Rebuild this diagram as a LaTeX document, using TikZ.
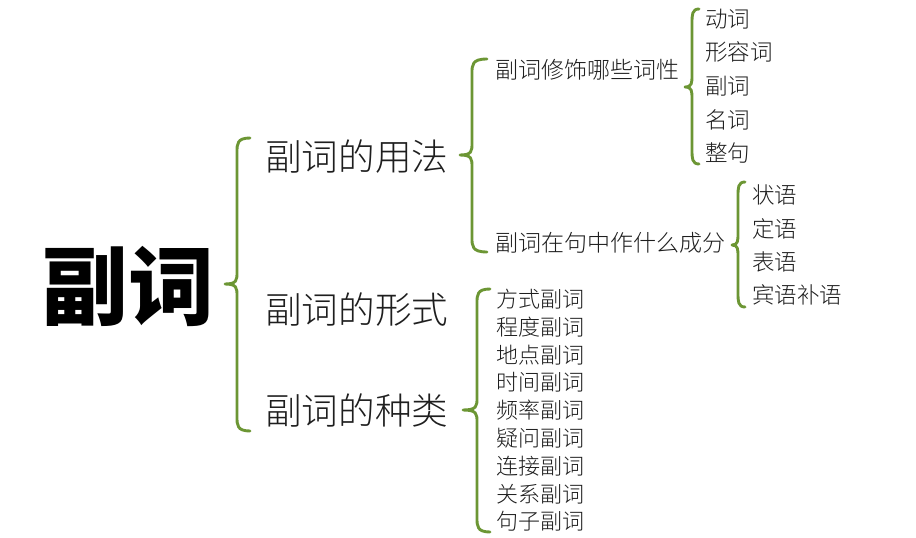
\documentclass[tikz,border=0pt]{standalone}
\usepackage{fontspec}
\newfontfamily\cjk{Noto Sans CJK SC Light}
\newfontfamily\cjkbold{Noto Sans CJK SC Black}
\definecolor{bracegreen}{RGB}{108,150,52}
\definecolor{txt}{RGB}{30,30,30}
\newcommand{\mybrace}[6]{% xtip, xv, xend, ytop, ymid, ybot
  \draw[bracestyle] (#3,#4) .. controls (#2,#4) and (#2,#4+6) .. (#2,#4+14)
    -- (#2,#5-12) .. controls (#2,#5-4) and (#2,#5) .. (#1,#5)
    .. controls (#2,#5) and (#2,#5+4) .. (#2,#5+12)
    -- (#2,#6-14) .. controls (#2,#6-6) and (#2,#6) .. (#3,#6);}
\begin{document}
\begin{tikzpicture}[x=1pt,y=-1pt,
  bracestyle/.style={draw=bracegreen,line width=2.9pt,line cap=round,line join=round},
  lvlA/.style={anchor=west,inner sep=0pt,text=txt,font=\cjk\fontsize{36.6}{40}\selectfont},
  lvlB/.style={anchor=west,inner sep=0pt,text=txt,font=\cjk\fontsize{23}{26}\selectfont},
  lvlC/.style={anchor=west,inner sep=0pt,text=txt,font=\cjk\fontsize{22.5}{26}\selectfont},
  lvlD/.style={anchor=west,inner sep=0pt,text=txt,font=\cjk\fontsize{22}{24}\selectfont}]
\useasboundingbox (0,0) rectangle (916,538);
\node[anchor=west,inner sep=0pt,font=\cjkbold\fontsize{86}{90}\selectfont] (root) at (42,286) {副词};
% level 1
\mybrace{225}{237}{250}{138}{284}{431}
\node[lvlA] (usage) at (265,157) {副词的用法};
\node[lvlA] (form) at (265,310) {副词的形式};
\node[lvlA] (kind) at (265,410) {副词的种类};
% usage
\mybrace{460}{472}{487}{59}{155}{252}
\node[lvlB] (modify) at (495,70) {副词修饰哪些词性};
\node[lvlB] (role) at (495,243) {副词在句中作什么成分};
% modify
\mybrace{685}{692}{699}{9}{87}{164}
\node[lvlC] (m1) at (705,19) {动词};
\node[lvlC] (m2) at (705,52) {形容词};
\node[lvlC] (m3) at (705,86) {副词};
\node[lvlC] (m4) at (705,120) {名词};
\node[lvlC] (m5) at (705,153) {整句};
% role
\mybrace{732}{738}{745}{182}{245}{307}
\node[lvlC] (r1) at (752,195) {状语};
\node[lvlC] (r2) at (752,229) {定语};
\node[lvlC] (r3) at (752,262) {表语};
\node[lvlC] (r4) at (752,295) {宾语补语};
% kinds
\mybrace{463}{477}{490}{289}{410}{532}
\node[lvlD] (k1) at (496,299) {方式副词};
\node[lvlD] (k2) at (496,327) {程度副词};
\node[lvlD] (k3) at (496,355) {地点副词};
\node[lvlD] (k4) at (496,382) {时间副词};
\node[lvlD] (k5) at (496,410) {频率副词};
\node[lvlD] (k6) at (496,438) {疑问副词};
\node[lvlD] (k7) at (496,466) {连接副词};
\node[lvlD] (k8) at (496,494) {关系副词};
\node[lvlD] (k9) at (496,521) {句子副词};
\end{tikzpicture}
\end{document}
